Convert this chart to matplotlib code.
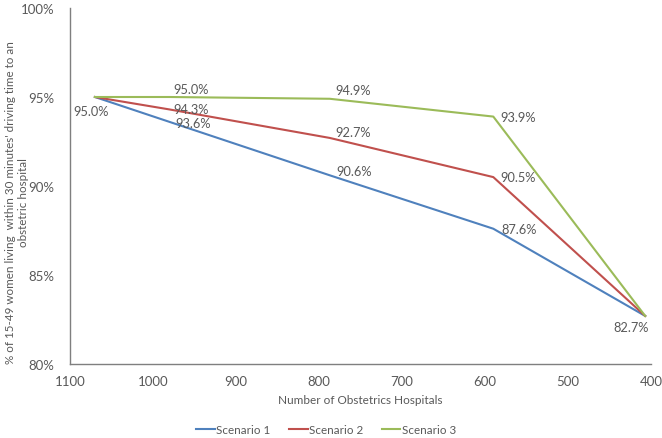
import matplotlib
matplotlib.use("Agg")
import matplotlib.pyplot as plt
from matplotlib.ticker import FuncFormatter

plt.rcParams["font.family"] = ["Lato", "DejaVu Sans"]

hospitals = [1070, 980, 787, 590, 407]
scenario1 = [95.0, 93.6, 90.6, 87.6, 82.7]
scenario2 = [95.0, 94.3, 92.7, 90.5, 82.7]
scenario3 = [95.0, 95.0, 94.9, 93.9, 82.7]
names = ["Scenario 1", "Scenario 2", "Scenario 3"]
colors = ["#4F81BD", "#C0504D", "#9BBB59"]

text_color = "#595959"

fig = plt.figure(figsize=(6.62, 4.39), dpi=100)
ax = fig.add_axes([70 / 662, 1 - 365 / 439, 581 / 662, 356 / 439])

for vals, name, c in zip([scenario1, scenario2, scenario3], names, colors):
    ax.plot(hospitals, vals, color=c, lw=1.5, label=name)

# data labels (offsets in points)
labels = [
    (hospitals[0], 95.0, "95.0%", (-3, -10), "center"),
    (hospitals[1], 95.0, "95.0%", (3, 6), "left"),
    (hospitals[1], 94.3, "94.3%", (3, 0.5), "left"),
    (hospitals[1], 93.6, "93.6%", (4, -0.5), "left"),
    (hospitals[2], 94.9, "94.9%", (4, 6), "left"),
    (hospitals[2], 92.7, "92.7%", (4, 4), "left"),
    (hospitals[2], 90.6, "90.6%", (5, 3), "left"),
    (hospitals[3], 93.9, "93.9%", (5, -0.5), "left"),
    (hospitals[3], 90.5, "90.5%", (5, 0), "left"),
    (hospitals[3], 87.6, "87.6%", (6, 0), "left"),
    (hospitals[4], 82.7, "82.7%", (-10, -8), "center"),
]
for x, y, t, off, ha in labels:
    ax.annotate(t, (x, y), xytext=off, textcoords="offset points",
                ha=ha, va="center", fontsize=9.2, color=text_color)

ax.set_xlim(1100, 400)
ax.set_ylim(80, 100)
ax.set_xticks([1100, 1000, 900, 800, 700, 600, 500, 400])
ax.set_yticks([80, 85, 90, 95, 100])
ax.yaxis.set_major_formatter(FuncFormatter(lambda v, p: f"{v:.0f}%"))
ax.tick_params(length=0, labelsize=9.5, colors=text_color, pad=8)
ax.tick_params(axis="y", pad=11)

for s in ["top", "right"]:
    ax.spines[s].set_visible(False)
for s in ["left", "bottom"]:
    ax.spines[s].set_color("#7F7F7F")
    ax.spines[s].set_linewidth(1.0)

ax.set_xlabel("Number of Obstetrics Hospitals", fontsize=8.5, color=text_color, labelpad=5)
fig.text(17 / 662, 1 - 203 / 439,
         "% of 15-49 women living  within 30 minutes' driving time to an\nobstetric hospital",
         rotation=90, ha="center", va="center", multialignment="center",
         fontsize=8.4, color=text_color, linespacing=1.15)

leg = fig.legend(loc="center", ncol=3, frameon=False, fontsize=8.4,
                 bbox_to_anchor=(326 / 662, 1 - 431 / 439), handlelength=1.6,
                 handletextpad=0.1, columnspacing=1.6)
for t in leg.get_texts():
    t.set_color(text_color)

fig.savefig("out.png", dpi=100)
